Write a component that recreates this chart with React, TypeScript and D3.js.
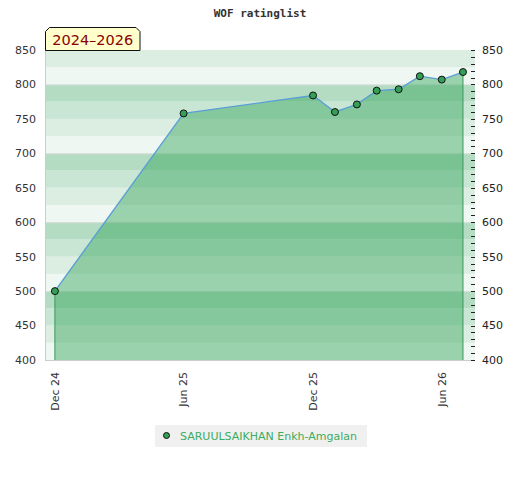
import * as d3 from 'd3';

// rating history
const dates = [
  '2024-12-01', '2025-06-01', '2025-12-01', '2026-01-01', '2026-02-01',
  '2026-03-01', '2026-04-01', '2026-05-01', '2026-06-01', '2026-07-01',
];
const ratings = [500, 758, 784, 760, 771, 791, 793, 812, 807, 818];

const xTickDates = ['2024-12-01', '2025-06-01', '2025-12-01', '2026-06-01'];
const xTickLabels = ['Dec 24', 'Jun 25', 'Dec 25', 'Jun 26'];
const yTicks = [400, 450, 500, 550, 600, 650, 700, 750, 800, 850];

const title = 'WOF ratinglist';
const periodLabel = '2024–2026';
const playerName = 'SARUULSAIKHAN Enkh-Amgalan';

const W = 520;
const H = 480;
const margin = { top: 50, right: 45, bottom: 120, left: 45 };
const bandColors = ['#eef7f1', '#dcede2', '#c9e6d4', '#b3dcc2'];

export default function App() {
  const innerW = W - margin.left - margin.right;
  const innerH = H - margin.top - margin.bottom;
  const parse = d3.utcParse('%Y-%m-%d');

  const data = dates.map((d, i) => ({ date: parse(d) as Date, v: ratings[i] }));

  const x = d3.scaleUtc()
    .domain([d3.utcDay.offset(data[0].date, -14), d3.utcDay.offset(data[data.length - 1].date, 17)])
    .range([margin.left, margin.left + innerW]);
  const y = d3.scaleLinear()
    .domain([400, 850])
    .range([margin.top + innerH, margin.top]);

  const bands = d3.range(400, 850, 25);
  const minor = d3.range(400, 851, 10);
  const grid = d3.range(500, 850, 100);

  const line = d3.line<{ date: Date; v: number }>()
    .x(d => x(d.date))
    .y(d => y(d.v));
  const area = d3.area<{ date: Date; v: number }>()
    .x(d => x(d.date))
    .y0(y(400))
    .y1(d => y(d.v));

  const first = data[0];
  const last = data[data.length - 1];
  const font = 'DejaVu Sans, sans-serif';

  // period label with cut top corners
  const bx0 = 45.5, bx1 = 140, by0 = 27.5, by1 = 50.5, c = 4;
  const boxPath = `M${bx0},${by1} L${bx0},${by0 + c} L${bx0 + c},${by0} L${bx1 - c},${by0} L${bx1},${by0 + c} L${bx1},${by1} Z`;

  return (
    <svg width={W} height={H} style={{ position: 'absolute', left: 0, top: 0, background: '#fff' }}>
      <text x={260} y={17} textAnchor="middle" fontFamily="DejaVu Sans Mono, monospace" fontWeight="bold" fontSize="11px" fill="#333">
        {title}
      </text>

      {bands.map(v => (
        <rect key={v} x={margin.left} width={innerW} y={y(v + 25)} height={y(v) - y(v + 25)}
          fill={bandColors[(v % 100) / 25]} />
      ))}
      {grid.map(v => (
        <line key={v} x1={margin.left} x2={margin.left + innerW} y1={y(v) + 0.5} y2={y(v) + 0.5}
          stroke="#d6ddd8" strokeWidth={1} />
      ))}

      <path d={area(data) as string} fill="rgb(40,160,80)" fillOpacity={0.42} />
      <line x1={x(first.date)} x2={x(first.date)} y1={y(first.v)} y2={y(400)} stroke="#3a9a5a" strokeWidth={1} />
      <line x1={x(last.date)} x2={x(last.date)} y1={y(last.v)} y2={y(400)} stroke="#3a9a5a" strokeWidth={1} />
      <path d={line(data) as string} fill="none" stroke="#5a9fd6" strokeWidth={1.4} />
      {data.map((d, i) => (
        <circle key={i} cx={x(d.date)} cy={y(d.v)} r={3.5} fill="#34a056" stroke="#111" strokeWidth={1} />
      ))}

      {/* axis frame */}
      <line x1={margin.left + 0.5} x2={margin.left + 0.5} y1={margin.top} y2={y(400)} stroke="#ccc" />
      <line x1={margin.left} x2={margin.left + innerW} y1={y(400) + 0.5} y2={y(400) + 0.5} stroke="#ccc" />

      {yTicks.map(v => (
        <text key={'l' + v} x={36} y={y(v)} dy="0.35em" textAnchor="end" fontFamily={font} fontSize="11px" fill="#333">{v}</text>
      ))}
      {yTicks.map(v => (
        <text key={'r' + v} x={482} y={y(v)} dy="0.35em" textAnchor="start" fontFamily={font} fontSize="11px" fill="#222">{v}</text>
      ))}
      {minor.map(v => (
        <line key={'t' + v} x1={margin.left + innerW - 4} x2={margin.left + innerW} y1={Math.round(y(v)) + 0.5} y2={Math.round(y(v)) + 0.5}
          stroke="#222" strokeWidth={1} />
      ))}

      {xTickDates.map((d, i) => {
        const px = x(parse(d) as Date);
        return (
          <text key={d} transform={`translate(${px},372) rotate(-90)`} dy="0.35em" textAnchor="end"
            fontFamily={font} fontSize="11px" fill="#333">{xTickLabels[i]}</text>
        );
      })}

      <path d={boxPath} fill="#ffffcc" stroke="#111" strokeWidth={1} />
      <text x={(bx0 + bx1) / 2} y={45} textAnchor="middle" fontFamily={font} fontSize="14.5px" fill="#8b0000">{periodLabel}</text>

      <rect x={155} y={425} width={212} height={22} fill="#f0f0f0" />
      <circle cx={166.5} cy={435.5} r={3} fill="#34a056" stroke="#111" strokeWidth={1} />
      <text x={180} y={436} dy="0.35em" fontFamily={font} fontSize="11px" fill="#3cac5e">{playerName}</text>
    </svg>
  );
}
